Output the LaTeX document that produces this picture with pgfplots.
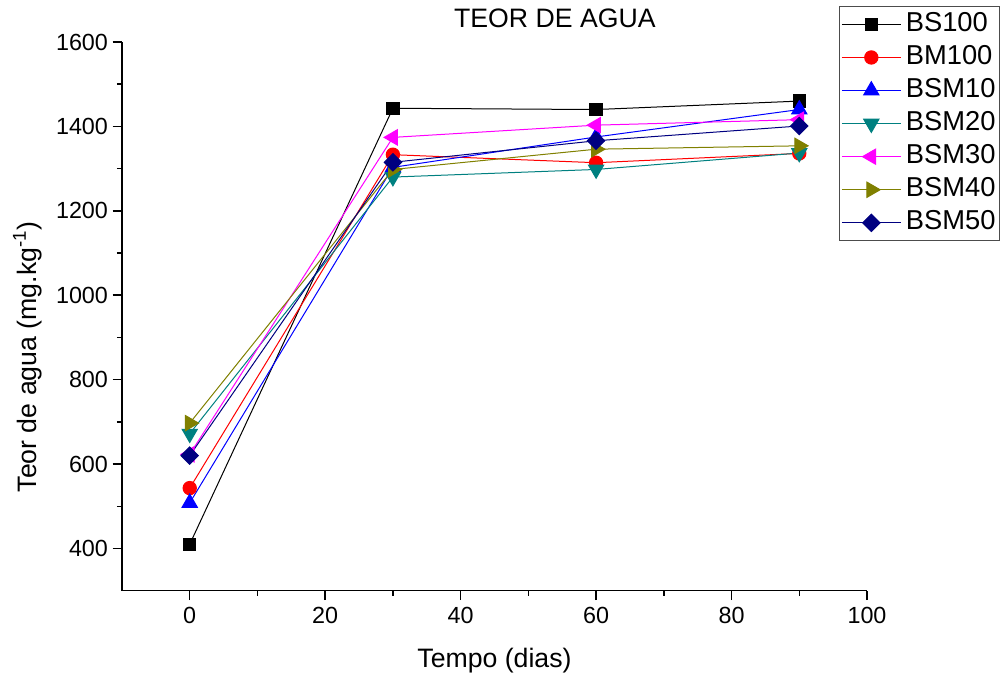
\documentclass[border=0pt]{standalone}
\usepackage{pgfplots}
\pgfplotsset{compat=1.18}
\usepackage{fontspec}
\setmainfont{Liberation Sans}

\definecolor{cBS}{RGB}{0,0,0}
\definecolor{cBM}{RGB}{255,0,0}
\definecolor{cS10}{RGB}{0,0,255}
\definecolor{cS20}{RGB}{0,128,128}
\definecolor{cS30}{RGB}{255,0,255}
\definecolor{cS40}{RGB}{128,128,0}
\definecolor{cS50}{RGB}{0,0,128}

\begin{document}
\begin{tikzpicture}
\path[use as bounding box] (-91.5pt,-63.2pt) rectangle (660pt,443pt);
\begin{axis}[
  at={(0,0)}, anchor=south west,
  scale only axis,
  width=558.75pt, height=411.5pt,
  xmin=-10, xmax=100, ymin=300, ymax=1600,
  axis lines=left,
  axis line style={-, line width=1.1pt},
  tick align=outside,
  major tick length=7pt, minor tick length=3.8pt,
  every tick/.style={black, line width=1.1pt},
  xtick={0,20,40,60,80,100},
  ytick={400,600,800,1000,1200,1400,1600},
  minor x tick num=1, minor y tick num=1,
  tick label style={font=\fontsize{17.5}{20}\selectfont},
  /pgf/number format/assume math mode=true,
  /pgf/number format/set thousands separator={},
  xticklabel style={yshift=-2pt},
  yticklabel style={xshift=0pt},
  title={TEOR DE AGUA},
  title style={at={(axis description cs:0.581,1.011)}, anchor=base,
    font=\fontsize{20}{24}\selectfont},
  xlabel={Tempo (dias)},
  xlabel style={at={(axis description cs:0.5,-0.1405)}, anchor=base,
    font=\fontsize{20}{24}\selectfont},
  ylabel={Teor de agua (mg.kg\textsuperscript{-1})},
  ylabel style={at={(axis description cs:-0.1154,0.426)}, anchor=base,
    font=\fontsize{20}{24}\selectfont},
  legend style={at={(axis description cs:1.1785,1.0656)}, anchor=north east,
    draw=black!70, line width=0.8pt, fill=white,
    font=\fontsize{20.5}{24}\selectfont,
    inner xsep=1.5pt, inner ysep=1pt,
    nodes={inner sep=1.5pt, text height=16pt, text depth=5.8pt},
    /tikz/every odd column/.append style={column sep=2pt}},
  legend cell align=left,
  legend image code/.code={%
    \draw[mark repeat=2, mark phase=2]
      plot coordinates {(0pt,0pt) (22pt,0pt) (44pt,0pt)};},
  clip=false,
]
\addplot[cBS, line width=0.75pt, mark=square*, mark size=4.6pt, mark options={solid}]
  coordinates {(0,410) (30,1443) (60,1440) (90,1460)};
\addlegendentry{BS100}
\addplot[cBM, line width=0.75pt, mark=*, mark size=5pt, mark options={solid}]
  coordinates {(0,543) (30,1333) (60,1314) (90,1336)};
\addlegendentry{BM100}
\addplot[cS10, line width=0.75pt, mark=triangle*, mark size=6.6pt, mark options={solid}]
  coordinates {(0,508) (30,1303) (60,1375) (90,1440)};
\addlegendentry{BSM10}
\addplot[cS20, line width=0.75pt, mark=triangle*, mark size=6.6pt, mark options={solid, rotate=180}]
  coordinates {(0,672) (30,1280) (60,1298) (90,1337)};
\addlegendentry{BSM20}
\addplot[cS30, line width=0.75pt, mark=triangle*, mark size=6.6pt, mark options={solid, rotate=90}]
  coordinates {(0,623) (30,1374) (60,1403) (90,1416)};
\addlegendentry{BSM30}
\addplot[cS40, line width=0.75pt, mark=triangle*, mark size=6.6pt, mark options={solid, rotate=-90}]
  coordinates {(0,697) (30,1298) (60,1346) (90,1354)};
\addlegendentry{BSM40}
\addplot[cS50, line width=0.75pt, mark=square*, mark size=4.6pt, mark options={solid, rotate=45}]
  coordinates {(0,620) (30,1315) (60,1366) (90,1401)};
\addlegendentry{BSM50}
\end{axis}
\end{tikzpicture}
\end{document}
